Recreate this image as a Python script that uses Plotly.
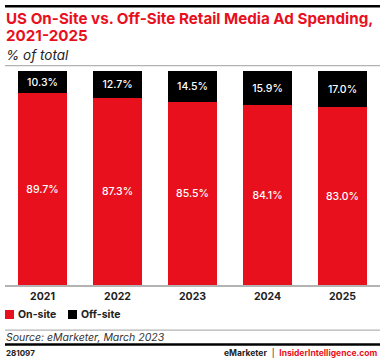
import plotly.graph_objects as go

years = ["2021", "2022", "2023", "2024", "2025"]
on_site = [89.7, 87.3, 85.5, 84.1, 83.0]
off_site = [10.3, 12.7, 14.5, 15.9, 17.0]
series_names = ["On-site", "Off-site"]
title_lines = ["US On-Site vs. Off-Site Retail Media Ad Spending,", "2021-2025"]
subtitle_text = "% of total"
source_text = "Source: eMarketer, March 2023"
chart_id = "281097"

RED = "#E8101D"
BLACK = "#000000"
GRAY = "#b3b3b3"
W, H = 385, 362
PLOT_L, PLOT_R, PLOT_T, PLOT_B = 5, 380, 71, 285
FONT = "Inter"

fig = go.Figure()
fig.add_trace(go.Bar(
    x=years, y=on_site, name=series_names[0], marker=dict(color=RED, line=dict(width=0)),
    text=[f"{v:.1f}%" for v in on_site], textposition="inside", insidetextanchor="middle",
    textfont=dict(color="white", size=10.5, family=FONT, weight=500), showlegend=False,
    xaxis="x", yaxis="y", hoverinfo="skip",
))
fig.add_trace(go.Bar(
    x=years, y=off_site, name=series_names[1], marker=dict(color=BLACK, line=dict(width=0)),
    text=[f"{v:.1f}%" for v in off_site], textposition="inside", insidetextanchor="middle",
    textfont=dict(color="white", size=10.5, family=FONT, weight=500), showlegend=False,
    xaxis="x", yaxis="y", hoverinfo="skip",
))

# decorative rules on a full-page pixel overlay (x2/y2)
rules = [(6.25, 2.5, BLACK), (65.6, 1.3, GRAY), (330.2, 1.3, GRAY), (344.5, 2.5, BLACK)]
for yc, th, col in rules:
    fig.add_trace(go.Scatter(x=[5, 380], y=[yc, yc], mode="lines", line=dict(color=col, width=th),
                             xaxis="x2", yaxis="y2", showlegend=False, hoverinfo="skip"))

shapes = [
    dict(type="rect", xref="x2", yref="y2", x0=5, x1=14, y0=310, y1=319, fillcolor=RED, line=dict(width=0)),
    dict(type="rect", xref="x2", yref="y2", x0=68, x1=77, y0=310, y1=319, fillcolor=BLACK, line=dict(width=0)),
]


def note(text, x, y, size, color="#222222", xanchor="left"):
    return dict(text=text, xref="x2", yref="y2", x=x, y=y, xanchor=xanchor, yanchor="middle",
                showarrow=False, font=dict(family=FONT, size=size, color=color))


annotations = [
    note(f"<b>{title_lines[0]}</b>", 4, 18.5, 15.2, RED),
    note(f"<b>{title_lines[1]}</b>", 4, 35.2, 15.2, RED),
    note(f"<i>{subtitle_text}</i>", 4, 55, 13.5),
    note(f"<b>{series_names[0]}</b>", 16, 314.5, 10.5),
    note(f"<b>{series_names[1]}</b>", 79, 314.5, 10.5),
    note(f"<i>{source_text}</i>", 4, 337, 10.5, "#333333"),
    note(f"<b>{chart_id}</b>", 4, 352.5, 8),
    note(f"<b>eMarketer</b>  |  <b><span style='color:{RED}'>InsiderIntelligence.com</span></b>",
         380, 352.5, 8.5, xanchor="right"),
]

fig.update_layout(
    barmode="stack", bargap=0.35,
    width=W, height=H,
    margin=dict(l=0, r=0, t=0, b=0, pad=0),
    paper_bgcolor="white", plot_bgcolor="rgba(0,0,0,0)",
    shapes=shapes, annotations=annotations,
    font=dict(family=FONT),
    xaxis=dict(type="category", range=[-0.5, 4.5], domain=[PLOT_L / W, PLOT_R / W], anchor="y",
               showline=True, linecolor=GRAY, linewidth=2,
               ticks="", tickfont=dict(family=FONT, size=10.5, color="#222222", weight="bold"),
               showgrid=False, zeroline=False, fixedrange=True),
    yaxis=dict(range=[0, 100], domain=[1 - PLOT_B / H, 1 - PLOT_T / H], anchor="x",
               visible=False, showgrid=False, zeroline=False, fixedrange=True),
    xaxis2=dict(range=[0, W], domain=[0, 1], anchor="y2", visible=False, fixedrange=True,
                showgrid=False, zeroline=False),
    yaxis2=dict(range=[H, 0], domain=[0, 1], anchor="x2", visible=False, fixedrange=True,
                showgrid=False, zeroline=False),
    showlegend=False,
)

fig.write_html(
    "out.html",
    config={"displayModeBar": False},
    post_script="document.body.style.margin='0';document.body.style.padding='0';",
)
